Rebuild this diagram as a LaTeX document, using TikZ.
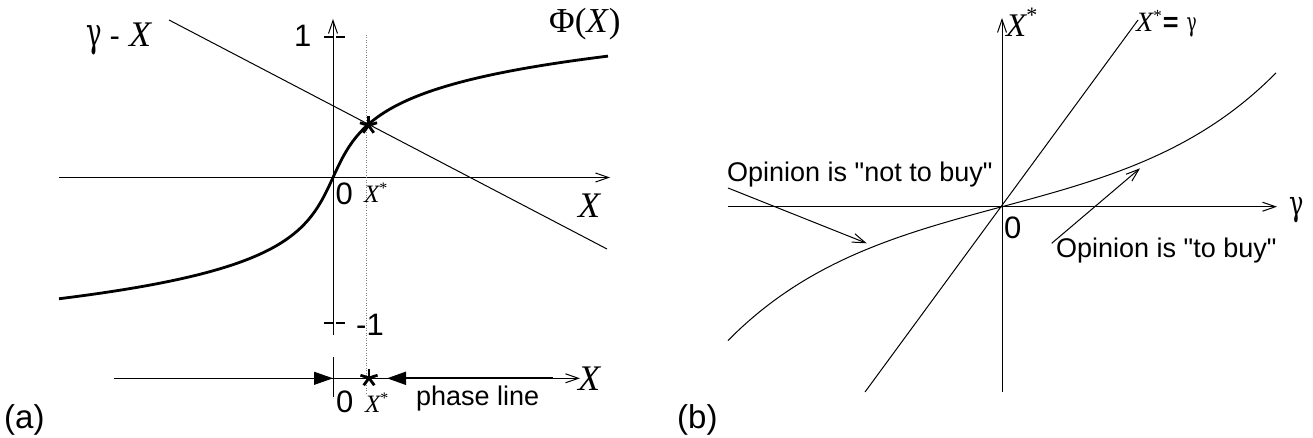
\documentclass[tikz,border=0pt]{standalone}
\usepackage{fontspec}
\setmainfont{Liberation Sans}
\newfontfamily\tms{Liberation Serif}
\newfontfamily\grk{DejaVu Serif}
\usetikzlibrary{arrows.meta}
\newcommand{\fsz}[1]{\fontsize{#1}{#1}\selectfont}
\newcommand{\itX}[1]{{\tms\itshape\fsz{#1}X}}
\newcommand{\gm}[2]{{\grk\fsz{#1}\scalebox{1}[#2]{γ}}}
\newcommand{\supast}[2]{\raisebox{#2}{\tms\fsz{#1}*}}
\newcommand{\dq}{\XeTeXglyph\XeTeXcharglyph"22\relax}
\begin{document}
\begin{tikzpicture}[x=1pt,y=-1pt,
  thinln/.style={line width=1pt},
  thickcurve/.style={line width=2.8pt},
  barb/.style={-{Straight Barb[length=13pt,width=9pt,line width=1pt]}},
  filltip/.style={-{Triangle[length=19pt,width=13pt]}},
  lbl/.style={inner sep=0pt, anchor=base west},
  tickln/.style={line width=1.8pt, dash pattern=on 9pt off 3pt},
  dotln/.style={line width=0.8pt, gray, dash pattern=on 1pt off 1.5pt},
  astmark/.pic={\foreach \a in {-90,-18,-162,54,126} \draw[line width=2.8pt] (0,0) -- ++(\a:9);}
]
\useasboundingbox (0,0) rectangle (1313,438);

% ---------------- panel (a) ----------------
\coordinate (O1) at (333,177.5);
\coordinate (xaL) at (59,177.5);
\coordinate (xaR) at (610,177.5);
\coordinate (yaB) at (333,335);
\coordinate (yaT) at (333,19);
\draw[thinln,barb] (xaL) -- (xaR);
\draw[thinln,barb] (yaB) -- (yaT);
\coordinate (t1a) at (324,36.7);
\coordinate (t1b) at (347,36.7);
\coordinate (t2a) at (324,323);
\coordinate (t2b) at (347,323);
\draw[tickln] (t1a) -- (t1b);
\draw[tickln] (t2a) -- (t2b);
\coordinate (dotT) at (366.7,35);
\coordinate (dotB) at (366.7,393);
\draw[dotln] (dotT) -- (dotB);
\coordinate (gxA) at (169,20);
\coordinate (gxB) at (607,249);
\draw[thinln] (gxA) -- (gxB);
\draw[thickcurve] plot[domain=-274:275, samples=160]
  ({333+\x},{177.5-34*sign(\x)*ln(abs(\x)/15.5+sqrt((\x/15.5)^2+1))});
\pic at (368.5,125.5) {astmark};

\node[lbl] (lgx) at (86,47) {\gm{26}{1.55}\hspace{8pt}{\fsz{31}-}\hspace{9pt}\itX{36}};
\node[lbl] (lone) at (294,47) {\fsz{31}1};
\node[lbl] (lmone) at (356,335) {\fsz{31}-1};
\node[lbl] (lzero) at (335.5,205) {\fsz{31}0};
\node[lbl] (lxs) at (364,203) {\itX{25}\supast{16}{9pt}};
\node[lbl] (lX) at (578,218) {\itX{36}};
\node[lbl] (lphi) at (549,33) {\tms\fsz{35}Φ(\textit{X})};

% phase line
\coordinate (pL) at (114,378.3);
\coordinate (pR) at (580,378.3);
\draw[thinln,barb] (pL) -- (pR);
\coordinate (pa1) at (300,378.3);
\coordinate (pa2) at (333,378.3);
\draw[thinln,filltip] (pa1) -- (pa2);
\coordinate (pb1) at (553,378.3);
\coordinate (pb2) at (387,378.3);
\draw[line width=1.7pt,filltip] (pb1) -- (pb2);
\coordinate (ptT) at (333,357);
\coordinate (ptB) at (333,397);
\draw[thinln] (ptT) -- (ptB);
\pic at (369,378) {astmark};
\node[lbl] (pzero) at (336,412) {\fsz{31}0};
\node[lbl] (pxs) at (365,412) {\itX{25}\supast{16}{9pt}};
\node[lbl] (pphase) at (416,405) {\fsz{27}phase line};
\node[lbl] (pX) at (578,390) {\itX{36}};
\node[lbl] (la) at (4,428) {\fsz{33}(a)};

% ---------------- panel (b) ----------------
\coordinate (O2) at (1002,206.7);
\coordinate (gaL) at (727.7,206.7);
\coordinate (gaR) at (1277,206.7);
\coordinate (vaB) at (1002,392);
\coordinate (vaT) at (1002,18);
\draw[thinln,barb] (gaL) -- (gaR);
\draw[thinln,barb] (vaB) -- (vaT);
\coordinate (idA) at (865,392);
\coordinate (idB) at (1138,20);
\draw[thinln] (idA) -- (idB);
\draw[thinln] plot[domain=-274:274, samples=120] ({1002+\x},{206.7-36.9*sinh(\x/137)});
\coordinate (n1) at (728,188);
\coordinate (n2) at (866.7,243.3);
\draw[thinln,barb] (n1) -- (n2);
\coordinate (b1) at (1051.7,243.3);
\coordinate (b2) at (1140,168.3);
\draw[thinln,barb] (b1) -- (b2);

\node[lbl] (rxs) at (1006,37) {\itX{33}\supast{22}{14pt}};
\node[lbl] (rid) at (1136,32) {\itX{28}\supast{17}{10pt}\hspace{1pt}{\bfseries\fsz{27}=}\hspace{8pt}\gm{17}{1.55}};
\node[lbl] (rg) at (1289,216) {\gm{24}{1.45}};
\node[lbl] (rzero) at (1004,238) {\fsz{31}0};
\node[lbl] (rnot) at (727,182) {\fsz{27}Opinion is \dq not to buy\dq};
\node[lbl] (rto) at (1056,257) {\fsz{27}Opinion is \dq to buy\dq};
\node[lbl] (lb) at (677,428) {\fsz{33}(b)};
\end{tikzpicture}
\end{document}
